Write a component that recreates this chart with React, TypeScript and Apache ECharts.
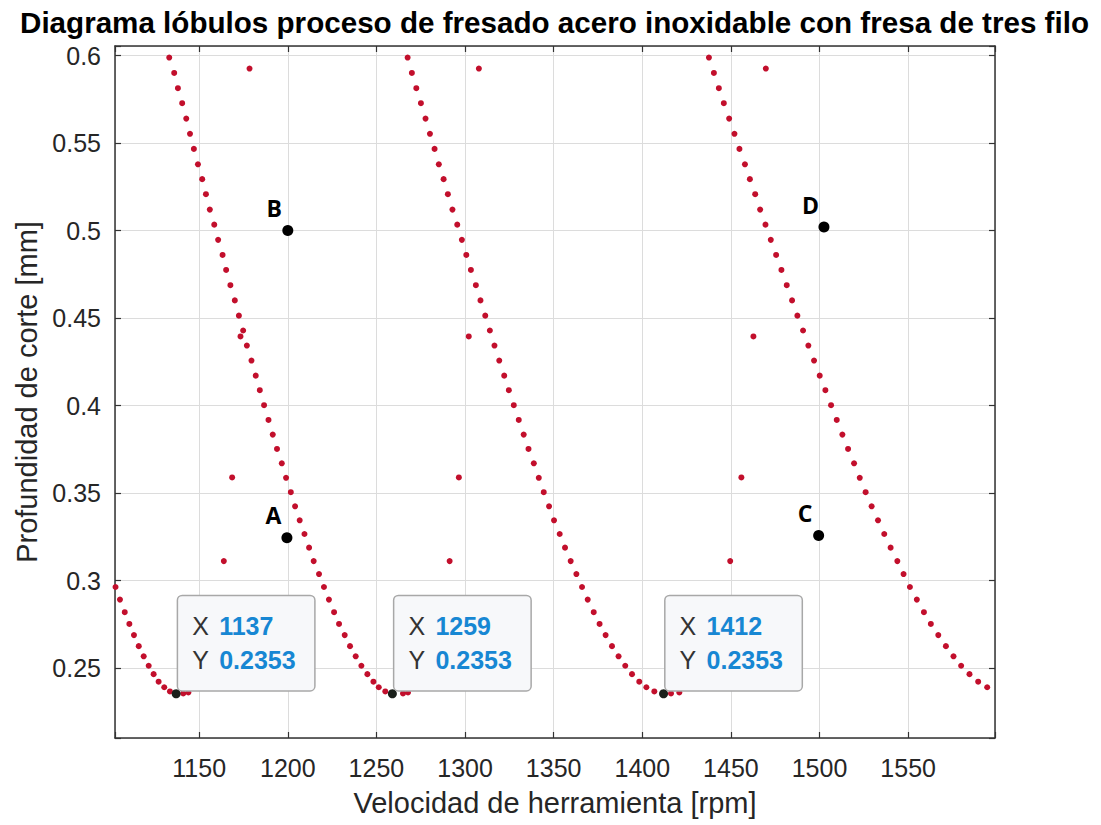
import React, { useEffect, useRef } from "react";
import * as echarts from "echarts";

const FONT = '"Liberation Sans", Arial, Helvetica, sans-serif';

const TITLE = "Diagrama lóbulos proceso de fresado acero inoxidable con fresa de tres filo";
const X_NAME = "Velocidad de herramienta [rpm]";
const Y_NAME = "Profundidad de corte [mm]";

// axis limits
const rpmRange = [1102.5, 1599];
const depthRange = [0.21, 0.6055];

// depth of cut shared by the descending branch of every lobe (top -> minimum)
const branchDepth = [
  0.5989, 0.5901, 0.5814, 0.5728, 0.564, 0.5553, 0.5467, 0.5379, 0.5294, 0.5208,
  0.512, 0.5034, 0.4947, 0.4861, 0.4775, 0.4688, 0.4601, 0.4514, 0.4429, 0.4343,
  0.4257, 0.4171, 0.4088, 0.4002, 0.3918, 0.3834, 0.3752, 0.367, 0.3587, 0.3505,
  0.3424, 0.3344, 0.3266, 0.3188, 0.3111, 0.3037, 0.2963, 0.2891, 0.2819, 0.2752,
  0.2688, 0.2625, 0.2567, 0.2513, 0.2465, 0.2422, 0.239, 0.2366, 0.2353,
];

// depth of cut of the sparse rising branch right of each minimum
const risingDepth = [0.2355, 0.236, 0.3111, 0.3589, 0.4395, 0.5926];

// lobe 1 (only its lower end is inside the window)
const lobe1Rpm = [1102.8, 1105.3, 1108.0, 1110.6, 1113.2, 1115.9, 1118.7, 1121.5, 1124.3, 1127.1, 1130.3, 1133.5, 1137];
const lobe1RisingRpm = [1141.0, 1143.9, 1163.9, 1168.6, 1173.3, 1178.4];

// lobe 2
const lobe2Rpm = [
  1133.1, 1135.9, 1138.0, 1140.4, 1142.7, 1144.8, 1147.0, 1149.3, 1151.7, 1153.8,
  1156.0, 1158.5, 1160.7, 1163.2, 1165.2, 1167.6, 1170.1, 1172.4, 1174.8, 1176.9,
  1179.5, 1181.9, 1184.2, 1186.6, 1189.1, 1191.5, 1193.9, 1196.6, 1199.0, 1201.7,
  1204.1, 1206.7, 1209.4, 1212.0, 1214.6, 1217.6, 1220.4, 1223.2, 1226.1, 1228.9,
  1232.1, 1235.1, 1238.3, 1241.5, 1244.9, 1248.3, 1251.3, 1255.0, 1259,
];
const lobe2RisingRpm = [1265.0, 1267.8, 1291.3, 1296.5, 1302.1, 1307.8];

// lobe 3
const lobe3Rpm = [
  1267.6, 1270.0, 1272.5, 1275.1, 1277.7, 1280.2, 1282.8, 1285.2, 1287.9, 1290.3,
  1292.9, 1295.6, 1298.2, 1300.7, 1303.3, 1306.1, 1308.7, 1311.4, 1314.0, 1316.6,
  1319.3, 1322.1, 1324.7, 1327.5, 1330.3, 1333.1, 1335.8, 1338.8, 1341.6, 1344.4,
  1347.4, 1350.2, 1353.4, 1356.4, 1359.6, 1362.8, 1366.0, 1369.2, 1372.6, 1375.9,
  1379.3, 1382.9, 1386.6, 1390.4, 1394.2, 1398.3, 1402.3, 1406.8, 1412,
];
const lobe3RisingRpm = [1416.2, 1420.9, 1449.6, 1455.9, 1462.7, 1469.7];

// lobe 4 (its minimum lies past the right limit)
const lobe4Rpm = [
  1437.6, 1440.4, 1443.2, 1446.0, 1449.0, 1452.0, 1454.8, 1457.9, 1460.7, 1463.7,
  1466.5, 1469.5, 1472.5, 1475.5, 1478.5, 1481.5, 1484.5, 1487.5, 1490.7, 1493.7,
  1496.9, 1500.1, 1503.3, 1506.5, 1509.7, 1512.9, 1516.1, 1519.5, 1522.7, 1526.0,
  1529.4, 1533.0, 1536.5, 1540.1, 1543.9, 1547.4, 1551.0, 1554.9, 1558.9, 1562.8,
  1567.0, 1571.3, 1575.6, 1579.9, 1584.6, 1589.5, 1594.6,
];

// data tips at the lobe minima
const tipRpm = [1137, 1259, 1412];
const tipDepth = [0.2353, 0.2353, 0.2353];

// labelled cutting conditions
const pointNames = ["A", "B", "C", "D"];
const pointRpm = [1199.5, 1200, 1499.5, 1502.5];
const pointDepth = [0.3245, 0.5, 0.3257, 0.502];

const descendingTail = (rpm: number[]) => {
  const depths = branchDepth.slice(branchDepth.length - rpm.length);
  return rpm.map((x, i) => [x, depths[i]]);
};
const descendingHead = (rpm: number[]) => rpm.map((x, i) => [x, branchDepth[i]]);
const rising = (rpm: number[]) => rpm.map((x, i) => [x, risingDepth[i]]);

const isMultiple = (v: number, step: number) => Math.abs(v / step - Math.round(v / step)) < 1e-6;

export default function App() {
  const ref = useRef<HTMLDivElement>(null);

  useEffect(() => {
    if (!ref.current) return;
    const chart = echarts.init(ref.current, undefined, { renderer: "svg" });

    const lobeData = [
      ...descendingTail(lobe1Rpm),
      ...rising(lobe1RisingRpm),
      ...descendingHead(lobe2Rpm),
      ...rising(lobe2RisingRpm),
      ...descendingHead(lobe3Rpm),
      ...rising(lobe3RisingRpm),
      ...descendingHead(lobe4Rpm),
    ];

    const frameLine = { color: "#333333", width: 1.5 };
    const tickStyle = { show: true, inside: true, length: 6, lineStyle: { color: "#333333", width: 1.2 } };

    const option: any = {
      animation: false,
      backgroundColor: "#ffffff",
      grid: { left: 115, right: 106, top: 46, bottom: 87, containLabel: false },
      graphic: [
        {
          type: "text",
          x: 554.5,
          y: 22,
          z: 10,
          style: {
            text: TITLE,
            font: `bold 29.6px ${FONT}`,
            fill: "#000000",
            align: "center",
            verticalAlign: "middle",
          },
        },
      ],
      xAxis: [
        {
          type: "value",
          min: rpmRange[0],
          max: rpmRange[1],
          splitNumber: 10,
          position: "bottom",
          axisLine: { show: true, onZero: false, lineStyle: frameLine },
          axisTick: tickStyle,
          axisLabel: {
            fontSize: 25,
            color: "#262626",
            fontFamily: FONT,
            margin: 17,
            formatter: (v: number) => (isMultiple(v, 50) ? String(Math.round(v)) : ""),
          },
          splitLine: { show: true, lineStyle: { color: "#dcdcdc", width: 1 } },
          name: X_NAME,
          nameLocation: "middle",
          nameGap: 50,
          nameTextStyle: { fontSize: 29, color: "#262626", fontFamily: FONT },
        },
        {
          type: "value",
          min: rpmRange[0],
          max: rpmRange[1],
          splitNumber: 10,
          position: "top",
          axisLine: { show: true, onZero: false, lineStyle: frameLine },
          axisTick: tickStyle,
          axisLabel: { show: false },
          splitLine: { show: false },
        },
      ],
      yAxis: [
        {
          type: "value",
          min: depthRange[0],
          max: depthRange[1],
          splitNumber: 8,
          position: "left",
          axisLine: { show: true, onZero: false, lineStyle: frameLine },
          axisTick: tickStyle,
          axisLabel: {
            fontSize: 25,
            color: "#262626",
            fontFamily: FONT,
            margin: 14,
            formatter: (v: number) => (isMultiple(v, 0.05) ? String(+v.toFixed(2)) : ""),
          },
          splitLine: { show: true, lineStyle: { color: "#dcdcdc", width: 1 } },
          name: Y_NAME,
          nameLocation: "middle",
          nameGap: 72,
          nameTextStyle: { fontSize: 29, color: "#262626", fontFamily: FONT },
        },
        {
          type: "value",
          min: depthRange[0],
          max: depthRange[1],
          splitNumber: 8,
          position: "right",
          axisLine: { show: true, onZero: false, lineStyle: frameLine },
          axisTick: tickStyle,
          axisLabel: { show: false },
          splitLine: { show: false },
        },
      ],
      series: [
        {
          name: "lobulos",
          type: "scatter",
          data: lobeData,
          symbol: "circle",
          symbolSize: 6,
          itemStyle: { color: "#c20f2c", opacity: 1 },
          silent: true,
          z: 2,
        },
        {
          name: "puntos",
          type: "scatter",
          data: pointNames.map((n, i) => ({ name: n, value: [pointRpm[i], pointDepth[i]] })),
          symbol: "circle",
          symbolSize: 11,
          itemStyle: { color: "#000000", opacity: 1 },
          silent: true,
          z: 3,
          label: {
            show: true,
            formatter: "{b}",
            position: [-8, -17],
            align: "center",
            verticalAlign: "middle",
            fontSize: 23,
            fontWeight: "bold",
            color: "#000000",
            fontFamily: '"Open Sans", "Noto Sans", sans-serif',
          },
        },
        {
          name: "datatips",
          type: "scatter",
          data: tipRpm.map((x, i) => [x, tipDepth[i]]),
          symbol: "circle",
          symbolSize: 9,
          itemStyle: { color: "#1a1f1a", opacity: 1 },
          silent: true,
          z: 5,
          label: {
            show: true,
            position: [6.5, -93],
            align: "left",
            verticalAlign: "top",
            formatter: (p: any) => `{k|X}{v|${p.value[0]}}\n{k|Y}{v|${p.value[1].toFixed(4)}}`,
            backgroundColor: "#f7f8fa",
            borderColor: "#a8a8a8",
            borderWidth: 1.5,
            borderRadius: 4,
            padding: [13, 12, 13, 14],
            width: 110,
            lineHeight: 34,
            rich: {
              k: { fontSize: 25, color: "#333333", fontFamily: FONT, lineHeight: 34, width: 27 },
              v: { fontSize: 25, fontWeight: "bold", color: "#1787d3", fontFamily: FONT, lineHeight: 34 },
            },
          },
        },
      ],
    };

    chart.setOption(option);
    return () => chart.dispose();
  }, []);

  return (
    <div
      ref={ref}
      style={{ position: "fixed", left: 0, top: 0, width: 1101, height: 825, background: "#ffffff" }}
    />
  );
}
